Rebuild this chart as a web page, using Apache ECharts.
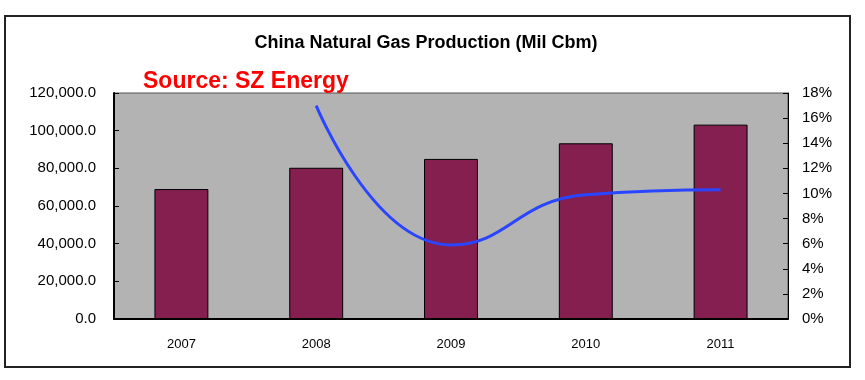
<!DOCTYPE html>
<html>
<head>
<meta charset="utf-8">
<script src="https://cdn.jsdelivr.net/npm/echarts@6/dist/echarts.min.js"></script>
<style>html,body{margin:0;padding:0;background:#fff;}#c{width:865px;height:380px;}</style>
</head>
<body>
<div id="c"></div>
<script>
const categories = ['2007', '2008', '2009', '2010', '2011'];
const production = [69000, 80300, 85000, 93300, 103200];
const growth = [null, 17.0, 5.9, 9.9, 10.3];
const leftTicks = [0, 120000, 20000];
const rightTicks = [0, 18, 2];

const chart = echarts.init(document.getElementById('c'), null, {renderer: 'canvas'});
chart.setOption({
  animation: false,
  backgroundColor: '#fff',
  title: [{
    text: 'China Natural Gas Production (Mil Cbm)',
    left: 421, top: 29, textAlign: 'center',
    textStyle: {fontFamily: 'Liberation Sans', fontWeight: 'bold', fontSize: 18, color: '#000'}
  }, {
    text: 'Source: SZ Energy',
    left: 138, top: 65,
    textStyle: {fontFamily: 'Liberation Sans', fontWeight: 'bold', fontSize: 23, color: '#ff0000'}
  }],
  graphic: [{
    type: 'rect', shape: {x: 5, y: 16, width: 845, height: 351},
    style: {fill: 'none', stroke: '#222', lineWidth: 2}, silent: true
  }],
  grid: {
    left: 114, right: 77, top: 93, bottom: 61,
    show: true, backgroundColor: '#b3b3b3', borderColor: '#555', borderWidth: 1
  },
  xAxis: {
    type: 'category', data: categories,
    axisLine: {lineStyle: {color: '#000', width: 2}},
    axisTick: {inside: true, length: 5, lineStyle: {color: '#000'}},
    axisLabel: {margin: 19, fontFamily: 'Liberation Sans', fontSize: 13, color: '#000'}
  },
  yAxis: [{
    type: 'value', min: leftTicks[0], max: leftTicks[1], interval: leftTicks[2],
    axisLine: {show: true, lineStyle: {color: '#000', width: 2}},
    axisTick: {show: true, inside: true, length: 5, lineStyle: {color: '#000'}},
    splitLine: {show: false},
    axisLabel: {margin: 18, fontFamily: 'Liberation Sans', fontSize: 15, color: '#000',
      formatter: v => v.toLocaleString('en-US', {minimumFractionDigits: 1, maximumFractionDigits: 1})}
  }, {
    type: 'value', min: rightTicks[0], max: rightTicks[1], interval: rightTicks[2],
    axisLine: {show: true, lineStyle: {color: '#000', width: 1}},
    axisTick: {show: true, inside: true, length: 5, lineStyle: {color: '#000'}},
    splitLine: {show: false},
    axisLabel: {margin: 14, fontFamily: 'Liberation Sans', fontSize: 15, color: '#000',
      formatter: v => v + '%'}
  }],
  series: [{
    type: 'bar', data: production, barWidth: '40%',
    itemStyle: {color: '#841f4f', borderColor: '#000', borderWidth: 1}
  }, {
    type: 'line', yAxisIndex: 1, data: growth, smooth: 0.5, showSymbol: false,
    connectNulls: false,
    lineStyle: {color: '#2a45ff', width: 3}
  }]
});
</script>
</body>
</html>
